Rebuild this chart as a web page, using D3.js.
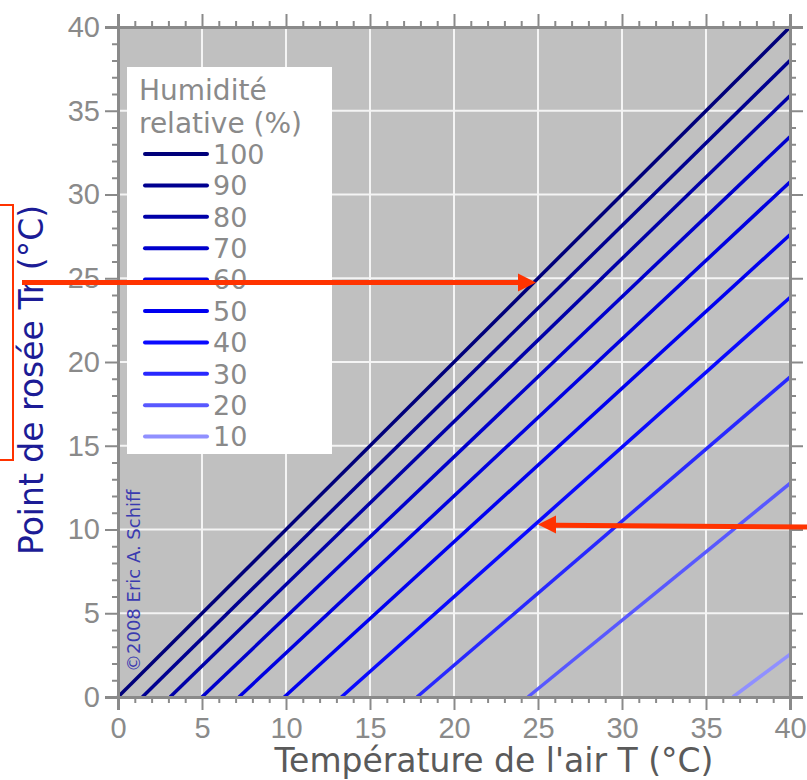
<!DOCTYPE html>
<html>
<head>
<meta charset="utf-8">
<script src="https://cdn.jsdelivr.net/npm/d3@7"></script>
<style>
  body { margin: 0; background: #fff; }
  svg { display: block; font-family: "DejaVu Sans", sans-serif; }
</style>
</head>
<body>
<svg width="807" height="780"></svg>
<script>
  // relative humidity (%) of each curve
  const humidity = [100, 90, 80, 70, 60, 50, 40, 30, 20, 10];
  // air temperature (°C) where the dew point reaches 0 °C
  const startTemp = [0, 1.45, 3.1, 5.0, 7.2, 9.9, 13.3, 17.8, 24.4, 36.6];
  // dew point (°C) at an air temperature of 40 °C
  const endDew = [40, 38.0, 35.9, 33.45, 30.75, 27.6, 23.85, 19.1, 12.75, 2.55];
  const lineColors = ["#00007a", "#000090", "#0000a8", "#0000cc", "#0000e0",
                      "#0000f0", "#0a0aff", "#2828ff", "#5858ff", "#9090ff"];
  const ticks = d3.range(0, 41, 5);

  const svg = d3.select("svg");
  const x = d3.scaleLinear().domain([0, 40]).range([118, 790]);
  const y = d3.scaleLinear().domain([0, 40]).range([697, 27]);
  const grey = "#8a8a8a";

  svg.append("rect")
    .attr("x", x(0)).attr("y", y(40))
    .attr("width", x(40) - x(0)).attr("height", y(0) - y(40))
    .attr("fill", "#c0c0c0");

  // white grid
  const grid = svg.append("g").attr("stroke", "#f4f4f4").attr("stroke-width", 2);
  grid.selectAll(".gx").data(ticks.slice(1, -1)).join("line")
    .attr("x1", d => x(d)).attr("x2", d => x(d))
    .attr("y1", y(0)).attr("y2", y(40));
  grid.selectAll(".gy").data(ticks.slice(1, -1)).join("line")
    .attr("class", "gy")
    .attr("y1", d => y(d)).attr("y2", d => y(d))
    .attr("x1", x(0)).attr("x2", x(40));

  // dew point curves
  const line = d3.line().x(d => x(d[0])).y(d => y(d[1]));
  svg.append("g").selectAll("path").data(humidity).join("path")
    .attr("d", (d, i) => line([[startTemp[i], 0], [40, endDew[i]]]))
    .attr("fill", "none")
    .attr("stroke", (d, i) => lineColors[i])
    .attr("stroke-width", 3.5);

  // axes with minor ticks on all four sides
  const axisStyle = (g) => {
    g.select(".domain").attr("stroke", grey).attr("stroke-width", 3);
    g.selectAll(".tick line").attr("stroke", grey).attr("stroke-width", 2);
    g.selectAll(".tick text").attr("fill", grey).attr("font-size", 29);
  };
  const minor = d3.range(0, 41, 1).filter(d => d % 5 !== 0);
  const sides = [
    [d3.axisBottom(x), `translate(0,${y(0)})`, true, 7],
    [d3.axisLeft(y), `translate(${x(0)},0)`, true, 5],
    [d3.axisTop(x), `translate(0,${y(40)})`, false, 4],
    [d3.axisRight(y), `translate(${x(40)},0)`, false, 4]
  ];
  sides.forEach(([axis, tr, labels, pad]) => {
    svg.append("g").attr("transform", tr)
      .call(axis.tickValues(minor).tickSize(6).tickFormat(""))
      .call(axisStyle);
    svg.append("g").attr("transform", tr)
      .call(axis.tickValues(ticks).tickSize(13).tickPadding(pad)
        .tickFormat(labels ? d3.format("d") : ""))
      .call(axisStyle);
  });

  // legend
  const lg = svg.append("g");
  lg.append("rect").attr("x", 127).attr("y", 67)
    .attr("width", 205).attr("height", 387).attr("fill", "#fff");
  lg.append("text").attr("x", 139).attr("y", 100)
    .attr("fill", grey).attr("font-size", 28).text("Humidité");
  lg.append("text").attr("x", 139).attr("y", 133)
    .attr("fill", grey).attr("font-size", 28).text("relative (%)");
  const item = lg.selectAll(".item").data(humidity).join("g")
    .attr("transform", (d, i) => `translate(145,${154 + i * 31.4})`);
  item.append("line").attr("x1", 0).attr("x2", 62)
    .attr("stroke", (d, i) => lineColors[i]).attr("stroke-width", 4)
    .attr("stroke-linecap", "round");
  item.append("text").attr("x", 68).attr("dy", "0.36em")
    .attr("fill", grey).attr("font-size", 27).text(d => d);

  // titles
  svg.append("text").attr("x", 494).attr("y", 772)
    .attr("text-anchor", "middle").attr("fill", "#5a5a5a").attr("font-size", 33)
    .text("Température de l'air T (°C)");
  svg.append("text")
    .attr("transform", `translate(43,380) rotate(-90)`)
    .attr("text-anchor", "middle").attr("fill", "#1c1c96").attr("font-size", 33)
    .text("Point de rosée Tr (°C)");
  svg.append("text")
    .attr("transform", `translate(${x(0) + 22},${y(0) - 25}) rotate(-90)`)
    .attr("fill", "#3a3ab0").attr("font-size", 18)
    .text("©2008 Eric A. Schiff");

  // red annotations
  const red = "#ff3300";
  const ann = svg.append("g");
  ann.append("rect").attr("x", -5).attr("y", 205).attr("width", 18).attr("height", 255)
    .attr("fill", "none").attr("stroke", red).attr("stroke-width", 2);
  ann.append("line").attr("x1", 22).attr("x2", x(25) - 18)
    .attr("y1", y(24.75)).attr("y2", y(24.75))
    .attr("stroke", red).attr("stroke-width", 5);
  ann.append("path")
    .attr("d", `M${x(25) - 2},${y(24.75)} l-18,-9 v18 z`).attr("fill", red);
  ann.append("line").attr("x1", 810).attr("x2", x(25) + 18)
    .attr("y1", y(10.15)).attr("y2", y(10.25))
    .attr("stroke", red).attr("stroke-width", 5);
  ann.append("path")
    .attr("d", `M${x(25)},${y(10.3)} l18,-9 v18 z`).attr("fill", red);
</script>
</body>
</html>
